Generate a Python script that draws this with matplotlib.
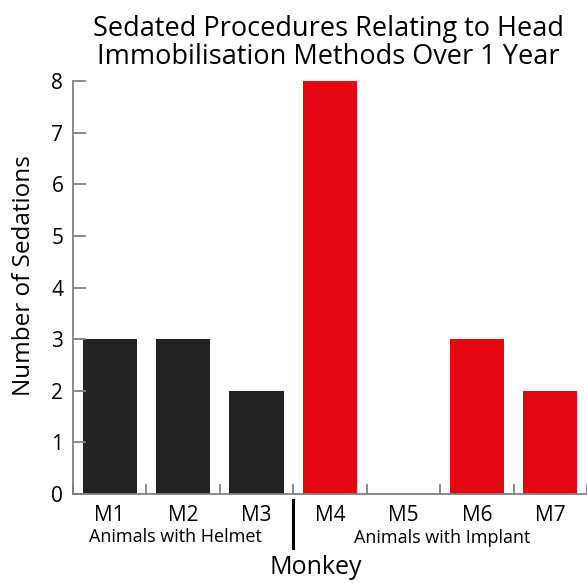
import matplotlib
matplotlib.use("Agg")
import matplotlib.pyplot as plt
import numpy as np

categories = ["M1", "M2", "M3", "M4", "M5", "M6", "M7"]
sedations = [3, 3, 2, 8, 0, 3, 2]
groups = ["helmet", "helmet", "helmet", "implant", "implant", "implant", "implant"]
group_labels = ["Animals with Helmet", "Animals with Implant"]
yticks = [0, 1, 2, 3, 4, 5, 6, 7, 8]

colors = {"helmet": "#222222", "implant": "#e30613"}
plt.rcParams['font.family'] = ['Open Sans', 'DejaVu Sans']

fig = plt.figure(figsize=(5.87, 5.83), dpi=100)
ax = fig.add_axes([0.1244, 0.1527, 0.8756, 0.7083])

x = np.arange(len(categories)) + 0.5
ax.bar(x, sedations, width=0.74, color=[colors[g] for g in groups])

ax.set_xlim(0, len(categories))
ax.set_ylim(0, 8)
ax.set_yticks(yticks)
ax.set_xticks(x)
ax.set_xticklabels(categories)
ax.set_xticks(np.arange(len(categories) + 1), minor=True)

for s in ["top", "right"]:
    ax.spines[s].set_visible(False)
for s in ["left", "bottom"]:
    ax.spines[s].set_color("#808080")
    ax.spines[s].set_linewidth(1.3)

ax.tick_params(axis="y", direction="in", length=9, width=1.3, color="#808080",
               labelsize=15, pad=7)
ax.tick_params(axis="x", which="major", length=0, labelsize=15, pad=8)
ax.tick_params(axis="x", which="minor", direction="in", length=7.5, width=1.3,
               color="#808080")

# group labels and divider
ax.text(1.39, -0.83, group_labels[0], ha="center", va="center", fontsize=13,
        clip_on=False)
ax.text(5.03, -0.85, group_labels[1], ha="center", va="center", fontsize=13,
        clip_on=False)
ax.plot([3, 3], [-0.12, -1.05], color="black", lw=2.2, clip_on=False)

fig.text((316) / 587, 1 - 568 / 583, "Monkey", ha="center", va="center", fontsize=18)
ax.set_ylabel("Number of Sedations", fontsize=17.5)
ax.yaxis.set_label_coords(-0.072, 0.528)

fig.text(0.559, 0.926, "Sedated Procedures Relating to Head\nImmobilisation Methods Over 1 Year",
         ha="center", va="center", fontsize=19.5, linespacing=1.0)

fig.savefig("out.png", dpi=100)
